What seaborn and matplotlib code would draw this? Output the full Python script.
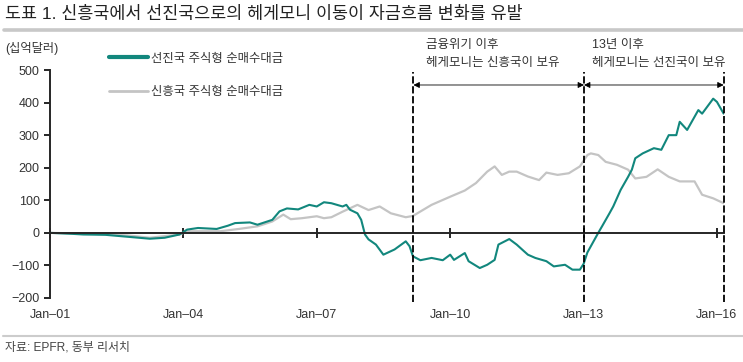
import matplotlib
matplotlib.use('Agg')
import matplotlib.pyplot as plt
import matplotlib.dates as mdates
import seaborn as sns
import pandas as pd

sns.set_style('ticks')
plt.rcParams['font.family'] = ['Liberation Sans', 'Noto Sans CJK KR', 'DejaVu Sans']
plt.rcParams['axes.unicode_minus'] = True

# 선진국 주식형 순매수대금 (십억달러)
dm_dates = ['2001-01', '2001-07', '2001-10', '2002-04', '2002-07', '2002-10', '2003-04', '2003-08',
            '2003-12', '2004-02', '2004-05', '2004-10', '2005-01', '2005-03', '2005-07', '2005-09',
            '2006-01', '2006-03', '2006-05', '2006-08', '2006-11', '2007-01', '2007-03', '2007-05',
            '2007-08', '2007-09', '2007-10', '2007-12', '2008-01', '2008-02', '2008-03', '2008-05',
            '2008-07', '2008-10', '2009-01', '2009-02', '2009-03', '2009-05', '2009-08', '2009-11',
            '2010-01', '2010-02', '2010-05', '2010-06', '2010-09', '2010-11', '2011-01', '2011-02',
            '2011-05', '2011-07', '2011-09', '2011-10', '2011-12', '2012-03', '2012-05', '2012-08',
            '2012-10', '2012-12', '2013-01', '2013-02', '2013-05', '2013-06', '2013-08', '2013-09',
            '2013-11', '2014-01', '2014-02', '2014-03', '2014-05', '2014-08', '2014-10', '2014-12',
            '2015-02', '2015-03', '2015-05', '2015-08', '2015-09', '2015-12', '2016-01', '2016-02-25']
dm_values = [0, -3, -5, -6, -9, -12, -18, -15,
             -5, 10, 15, 12, 22, 30, 32, 25,
             40, 66, 75, 72, 86, 81, 94, 91,
             81, 86, 71, 60, 40, -5, -20, -36,
             -67, -51, -26, -41, -72, -84, -77, -84,
             -67, -83, -62, -87, -108, -98, -83, -36,
             -19, -36, -57, -67, -77, -87, -103, -98,
             -113, -113, -95, -60, 0, 20, 60, 81,
             132, 172, 194, 229, 244, 260, 255, 300,
             300, 341, 316, 377, 366, 412, 402, 366]

# 신흥국 주식형 순매수대금 (십억달러)
em_dates = ['2001-01', '2002-01', '2002-10', '2003-04', '2003-12', '2004-02', '2004-08', '2004-11',
            '2005-04', '2005-09', '2006-01', '2006-04', '2006-06', '2006-09', '2007-01', '2007-03',
            '2007-05', '2007-08', '2007-12', '2008-03', '2008-06', '2008-09', '2009-01', '2009-03',
            '2009-08', '2010-01', '2010-05', '2010-08', '2010-11', '2011-01', '2011-03', '2011-05',
            '2011-07', '2011-10', '2012-01', '2012-03', '2012-06', '2012-09', '2012-12', '2013-02',
            '2013-03', '2013-05', '2013-07', '2013-10', '2014-01', '2014-03', '2014-06', '2014-09',
            '2014-12', '2015-03', '2015-07', '2015-09', '2015-12', '2016-02-25']
em_values = [0, -3, -8, -15, -5, 5, 5, 5,
             12, 20, 35, 56, 42, 45, 51, 45,
             48, 65, 86, 70, 81, 60, 48, 52,
             86, 111, 130, 153, 188, 204, 178, 188,
             188, 173, 162, 185, 178, 183, 204, 239,
             244, 239, 218, 209, 194, 167, 172, 195,
             172, 158, 158, 117, 106, 91]

period_marks = ['2009-03-05', '2013-01-04', '2016-02-25']
arrow_level = 454

dm = pd.DataFrame({'date': pd.to_datetime(dm_dates, format='mixed'), 'value': dm_values})
em = pd.DataFrame({'date': pd.to_datetime(em_dates, format='mixed'), 'value': em_values})
marks = pd.to_datetime(period_marks)

teal = '#12877d'
grey = '#c4c4c4'
txt = '#333333'

fig = plt.figure(figsize=(7.43, 3.62), dpi=100)
ax = fig.add_axes([0.0673, 0.1768, 0.907, 0.6298])

sns.lineplot(data=em, x='date', y='value', ax=ax, color=grey, lw=1.6, label='신흥국 주식형 순매수대금')
sns.lineplot(data=dm, x='date', y='value', ax=ax, color=teal, lw=1.5, label='선진국 주식형 순매수대금')

ax.set_xlim(pd.Timestamp('2001-01-01'), pd.Timestamp('2016-02-27'))
ax.set_ylim(-200, 500)
ax.set_yticks(range(-200, 501, 100))
ax.set_xticks(pd.to_datetime(['2001-01-01', '2004-01-01', '2007-01-01', '2010-01-01',
                              '2013-01-01', '2016-01-01']))
ax.xaxis.set_major_formatter(mdates.DateFormatter('%b\u2013%y'))
ax.set_xlabel('')
ax.set_ylabel('')

for s in ['top', 'right']:
    ax.spines[s].set_visible(False)
ax.spines['bottom'].set_position(('data', 0))
ax.spines['bottom'].set_linewidth(1.4)
ax.spines['left'].set_linewidth(1.4)
ax.tick_params(axis='x', direction='inout', length=7, width=1.4, pad=51, labelsize=9, labelcolor=txt)
ax.tick_params(axis='y', direction='out', length=4, width=1.4, labelsize=9, labelcolor=txt)

for m in marks:
    ax.vlines(m, -213, 494, colors='black', linestyles=(0, (4, 1.5)), lw=1.3, clip_on=False, zorder=5)

arrowprops = dict(arrowstyle='<|-|>', color='black', lw=0.6, mutation_scale=9, shrinkA=0, shrinkB=0)
ax.annotate('', xy=(marks[0], arrow_level), xytext=(marks[1], arrow_level), arrowprops=arrowprops)
ax.annotate('', xy=(marks[1], arrow_level), xytext=(marks[2], arrow_level), arrowprops=arrowprops)

ax.text(pd.Timestamp('2009-06-15'), 576, '금융위기 이후', fontsize=9, color=txt, va='center')
ax.text(pd.Timestamp('2009-06-15'), 521, '헤게모니는 신흥국이 보유', fontsize=9, color=txt, va='center')
ax.text(pd.Timestamp('2013-03-10'), 576, '13년 이후', fontsize=9, color=txt, va='center')
ax.text(pd.Timestamp('2013-03-10'), 521, '헤게모니는 선진국이 보유', fontsize=9, color=txt, va='center')

h, l = ax.get_legend_handles_labels()
leg = ax.legend(h[::-1], l[::-1], loc='upper left', bbox_to_anchor=(0.132, 0.885),
                bbox_transform=fig.transFigure, frameon=False, fontsize=8.9,
                handlelength=3.1, labelspacing=1.75, handletextpad=0.3)
leg.get_lines()[0].set_linewidth(3)
leg.get_lines()[1].set_linewidth(2)
for t in leg.get_texts():
    t.set_color(txt)

fig.text(0.007, 0.867, '(십억달러)', fontsize=8.8, color=txt, va='center')
fig.text(0.007, 0.962, '도표 1. 신흥국에서 선진국으로의 헤게모니 이동이 자금흐름 변화를 유발',
         fontsize=12.5, color='#222222', va='center')
fig.add_artist(plt.Line2D([0.005, 1], [0.917, 0.917], color='#c8c8c8', lw=2.6))
fig.add_artist(plt.Line2D([0.004, 1], [0.072, 0.072], color='#cccccc', lw=1.5))
fig.text(0.007, 0.041, '자료: EPFR, 동부 리서치', fontsize=8.6, color='#444444', va='center')

fig.savefig('out.png', dpi=100)
